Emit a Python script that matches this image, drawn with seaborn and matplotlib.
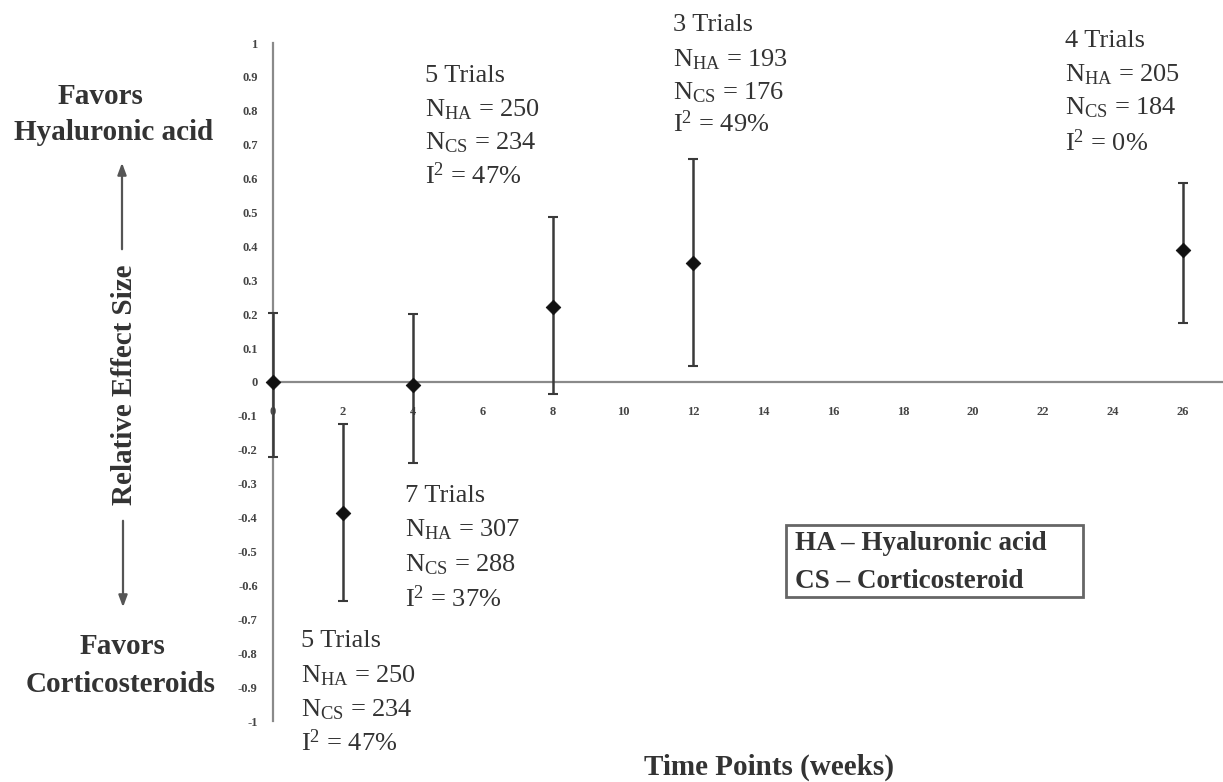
import numpy as np
import pandas as pd
import matplotlib
matplotlib.use("Agg")
import matplotlib.pyplot as plt
from matplotlib.patches import FancyArrowPatch, Rectangle
import seaborn as sns

# ---------------- data ----------------
weeks = [0, 2, 4, 8, 12, 26]
effect = [0.0, -0.385, -0.01, 0.222, 0.352, 0.39]
ci_low = [-0.22, -0.645, -0.24, -0.036, 0.048, 0.175]
ci_high = [0.205, -0.125, 0.20, 0.487, 0.658, 0.587]

x_ticks = list(range(0, 27, 2))
y_ticks = [1.0, 0.9, 0.8, 0.7, 0.6, 0.5, 0.4, 0.3, 0.2, 0.1, 0.0,
           -0.1, -0.2, -0.3, -0.4, -0.5, -0.6, -0.7, -0.8, -0.9, -1.0]
y_tick_labels = ["1", "0.9", "0.8", "0.7", "0.6", "0.5", "0.4", "0.3", "0.2", "0.1", "0",
                 "-0.1", "-0.2", "-0.3", "-0.4", "-0.5", "-0.6", "-0.7", "-0.8", "-0.9", "-1"]

trials = ["5 Trials", "3 Trials", "4 Trials", "7 Trials", "5 Trials"]
n_ha = [250, 193, 205, 307, 250]
n_cs = [234, 176, 184, 288, 234]
i2 = [47, 49, 0, 37, 47]

# ---------------- style ----------------
sns.set_theme(style="white")
plt.rcParams["font.family"] = ["Liberation Serif", "DejaVu Serif"]
plt.rcParams["mathtext.fontset"] = "custom"
plt.rcParams["mathtext.rm"] = "Liberation Serif"
plt.rcParams["mathtext.it"] = "Liberation Serif:italic"
plt.rcParams["mathtext.bf"] = "Liberation Serif:bold"

W, H = 1223, 782
fig = plt.figure(figsize=(W / 100, H / 100), dpi=100)
ax = fig.add_axes([273 / W, (H - 721) / H, (W - 273) / W, (721 - 43) / H])

TXT = "#333333"

df = pd.DataFrame({"week": weeks, "effect": effect, "lo": ci_low, "hi": ci_high})
yerr = np.vstack([df["effect"] - df["lo"], df["hi"] - df["effect"]])
ax.errorbar(df["week"], df["effect"], yerr=yerr, fmt="none", ecolor="#3a3a3a",
            elinewidth=1.8, capsize=3.5, capthick=1.5, zorder=4, clip_on=False)
sns.scatterplot(data=df, x="week", y="effect", marker="D", color="#111111",
                s=55, edgecolor="#111111", ax=ax, zorder=5, clip_on=False)

ax.set_xlim(0, (W - 273) / 35.0)
ax.set_ylim(-1, 1)
ax.set_xticks(x_ticks)
ax.set_xticklabels([str(t) for t in x_ticks])
ax.set_yticks(y_ticks)
ax.set_yticklabels(y_tick_labels)
ax.set_xlabel("")
ax.set_ylabel("")

for s in ["top", "right"]:
    ax.spines[s].set_visible(False)
ax.spines["bottom"].set_position(("data", 0))
ax.spines["bottom"].set_color("#8a8a8a")
ax.spines["bottom"].set_linewidth(1.6)
ax.spines["left"].set_color("#8a8a8a")
ax.spines["left"].set_linewidth(1.6)

ax.tick_params(axis="x", direction="inout", length=5, width=1, color="#999999",
               pad=15, labelsize=9, labelcolor="#444444")
ax.tick_params(axis="y", direction="out", length=4, width=1, color="#999999",
               pad=7, labelsize=9, labelcolor="#444444")
for lab in ax.get_xticklabels() + ax.get_yticklabels():
    lab.set_fontweight("bold")

# ---------------- annotation blocks ----------------
def px2data(px, py):
    return (px - 273) / 35.0, (381 - py) / 339.0

blocks = [  # left pixel x, line centre pixel y's
    (425, [73, 107, 140, 175]),
    (673, [22, 57, 90, 123]),
    (1065, [38, 72, 105, 142]),
    (405, [493, 527, 562, 598]),
    (301, [638, 673, 707, 742]),
]
for k, (bx, ys) in enumerate(blocks):
    lines = [trials[k],
             r"N$_{\mathrm{HA}}$ = %d" % n_ha[k],
             r"N$_{\mathrm{CS}}$ = %d" % n_cs[k],
             r"I$^{2}$ = %d%%" % i2[k]]
    for line, py in zip(lines, ys):
        x, y = px2data(bx, py + 8)
        ax.text(x, y, line, fontsize=19, color=TXT, ha="left", va="baseline",
                clip_on=False)

# ---------------- left side labels ----------------
def fx(px):
    return px / W

def fy(py):
    return 1 - py / H

big = dict(ha="center", va="center", fontsize=21, fontweight="bold", color=TXT)
fig.text(fx(100), fy(97), "Favors", **big)
fig.text(fx(114), fy(132), "Hyaluronic acid", **big)
fig.text(fx(122), fy(646), "Favors", **big)
fig.text(fx(121), fy(684), "Corticosteroids", **big)
fig.text(fx(124), fy(385), "Relative Effect Size", rotation=90, **big)

arrow_kw = dict(arrowstyle="-|>,head_length=0.35,head_width=0.13", color="#555555",
                lw=1.6, mutation_scale=20, transform=fig.transFigure)
fig.add_artist(FancyArrowPatch((fx(122), fy(252)), (fx(122), fy(160)), **arrow_kw))
fig.add_artist(FancyArrowPatch((fx(123), fy(518)), (fx(123), fy(610)), **arrow_kw))

# ---------------- x label ----------------
fig.text(fx(769), fy(767), "Time Points (weeks)", **big)

# ---------------- key box ----------------
fig.add_artist(Rectangle((fx(786), fy(597)), (1083 - 786) / W, (597 - 525) / H,
                         transform=fig.transFigure, fill=False, ec="#666666", lw=2))
key = dict(ha="left", va="center", fontsize=19.5, fontweight="bold", color=TXT)
fig.text(fx(795), fy(543), "HA \u2013 Hyaluronic acid", **key)
fig.text(fx(795), fy(581), "CS \u2013 Corticosteroid", **key)

fig.savefig("out.png", dpi=100, facecolor="white")
